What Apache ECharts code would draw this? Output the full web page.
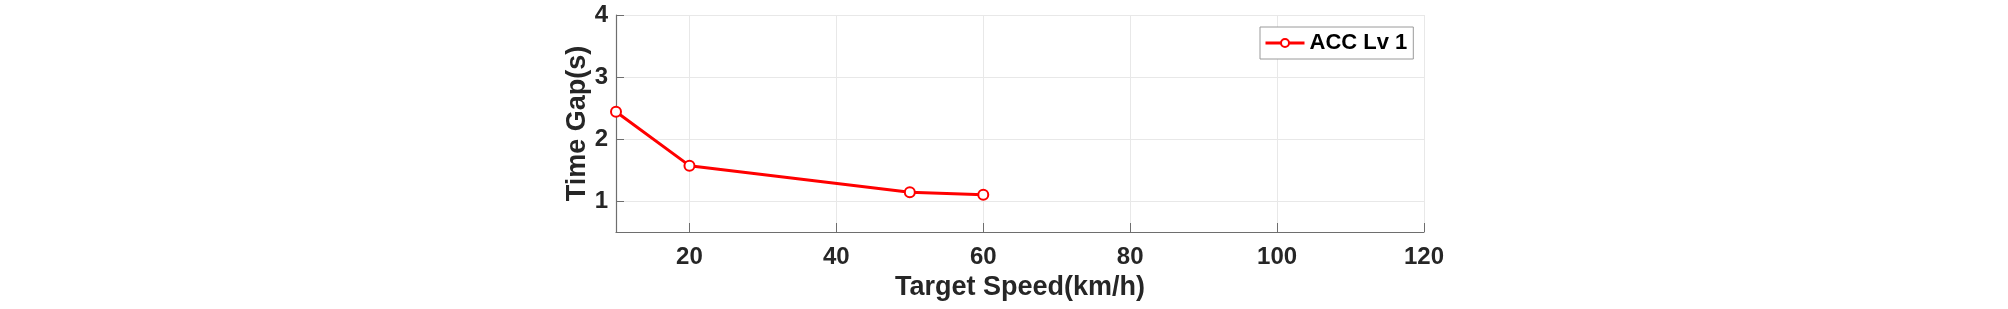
<!DOCTYPE html>
<html>
<head>
<meta charset="utf-8">
<script src="https://cdn.jsdelivr.net/npm/echarts@6/dist/echarts.min.js"></script>
<style>html,body{margin:0;padding:0;background:#fff;}#c{width:2008px;height:309px;}</style>
</head>
<body>
<div id="c"></div>
<script>
const speeds = [10, 20, 50, 60];
const timeGap = [2.44, 1.57, 1.14, 1.10];
const xTicks = [20, 40, 60, 80, 100, 120];
const yTicks = [1, 2, 3, 4];
const seriesName = 'ACC Lv 1';

const chart = echarts.init(document.getElementById('c'), null, {renderer: 'canvas'});
const font = 'Liberation Sans, Arial, sans-serif';
const axisColor = '#6e6e6e';
const labelStyle = {fontFamily: font, fontWeight: 'bold', fontSize: 24, color: '#262626'};
const nameStyle = {fontFamily: font, fontWeight: 'bold', fontSize: 27, color: '#262626'};
chart.setOption({
  animation: false,
  backgroundColor: '#fff',
  grid: {left: 616, right: 584, top: 15, bottom: 77, containLabel: false},
  legend: {
    data: [seriesName],
    left: 1260, top: 27,
    padding: [3, 6, 3, 4],
    itemWidth: 39, itemHeight: 10,
    itemGap: 4,
    backgroundColor: '#fff',
    borderColor: '#9a9a9a', borderWidth: 1,
    lineStyle: {width: 3, color: '#ff0000'},
    itemStyle: {borderWidth: 2.5, borderColor: '#ff0000'},
    textStyle: {fontFamily: font, fontWeight: 'bold', fontSize: 22, color: '#000', lineHeight: 26}
  },
  xAxis: {
    type: 'value', min: 10, max: 120,
    name: 'Target Speed(km/h)', nameLocation: 'middle', nameGap: 39,
    nameTextStyle: nameStyle,
    axisLine: {show: true, onZero: false, lineStyle: {color: axisColor, width: 1.2}},
    axisTick: {show: true, inside: true, length: 9, customValues: xTicks, lineStyle: {color: axisColor, width: 1}},
    axisLabel: Object.assign({customValues: xTicks, margin: 13}, labelStyle),
    splitLine: {show: true, lineStyle: {color: '#e8e8e8', width: 1}}
  },
  yAxis: {
    type: 'value', min: 0.5, max: 4,
    name: 'Time Gap(s)', nameLocation: 'middle', nameGap: 25,
    nameTextStyle: nameStyle,
    axisLine: {show: true, onZero: false, lineStyle: {color: axisColor, width: 1.2}},
    axisTick: {show: true, inside: true, length: 8, customValues: yTicks, lineStyle: {color: axisColor, width: 1}},
    axisLabel: Object.assign({customValues: yTicks, margin: 8}, labelStyle),
    splitLine: {show: true, lineStyle: {color: '#e8e8e8', width: 1}}
  },
  series: [{
    name: seriesName,
    type: 'line',
    data: speeds.map((s, i) => [s, timeGap[i]]),
    symbol: 'emptyCircle', symbolSize: 10,
    lineStyle: {color: '#ff0000', width: 3},
    itemStyle: {color: '#ff0000', borderColor: '#ff0000', borderWidth: 2.5},
    emphasis: {disabled: true}
  }]
});
</script>
</body>
</html>
